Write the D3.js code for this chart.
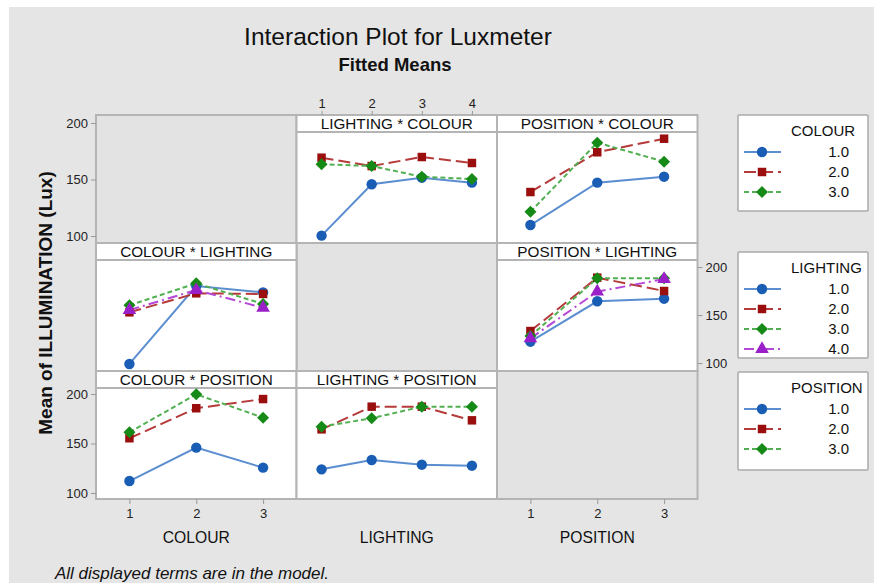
<!DOCTYPE html>
<html><head><meta charset="utf-8">
<script src="https://cdn.jsdelivr.net/npm/d3@7"></script>
<style>body{margin:0;background:#fff;} svg{display:block;font-family:"Liberation Sans",Arial,sans-serif;}</style>
</head><body><svg id="c" width="874" height="585"></svg>
<script>
// ---- data (fitted means) ----
const colourLevels = [1, 2, 3];
const lightingLevels = [1, 2, 3, 4];
const positionLevels = [1, 2, 3];
const yTicks = [100, 150, 200];
const legendLabels3 = ["1.0", "2.0", "3.0"];
const legendLabels4 = ["1.0", "2.0", "3.0", "4.0"];

// LIGHTING * COLOUR : x = LIGHTING, one line per COLOUR
const lightingColour = [
  [100.3, 145.8, 151.6, 147.2],
  [169.3, 161.9, 169.9, 164.6],
  [163.5, 161.9, 152.5, 150.4]
];
// POSITION * COLOUR : x = POSITION, one line per COLOUR
const positionColour = [
  [109.7, 147.2, 152.5],
  [138.9, 174.1, 186.1],
  [121.5, 182.6, 165.8]
];
// COLOUR * LIGHTING : x = COLOUR, one line per LIGHTING
const colourLighting = [
  [99.0, 180.2, 173.6],
  [152.8, 172.6, 171.9],
  [160.1, 183.0, 161.5],
  [155.2, 176.0, 157.6]
];
// POSITION * LIGHTING : x = POSITION, one line per LIGHTING
const positionLighting = [
  [122.2, 164.3, 167.0],
  [133.3, 188.9, 175.0],
  [128.1, 188.2, 188.2],
  [125.7, 174.3, 187.5]
];
// COLOUR * POSITION : x = COLOUR, one line per POSITION
const colourPosition = [
  [112.1, 145.8, 125.6],
  [155.3, 185.6, 194.9],
  [161.3, 199.7, 176.1]
];
// LIGHTING * POSITION : x = LIGHTING, one line per POSITION
const lightingPosition = [
  [123.9, 133.3, 128.6, 127.6],
  [164.3, 187.2, 187.2, 173.4],
  [167.0, 175.5, 187.2, 187.2]
];

// ---- styles ----
const styles = [
  {line: "#5a8ed0", mark: "#1a5db4", dash: null, shape: d3.symbolCircle, size: 85, rot: 0},
  {line: "#b53a3a", mark: "#9a0e0e", dash: "12,5", shape: d3.symbolSquare, size: 72, rot: 0},
  {line: "#52b052", mark: "#168a16", dash: "5,3", shape: d3.symbolSquare, size: 72, rot: 45},
  {line: "#b548d6", mark: "#9a1fc8", dash: "10,4,2,4", shape: d3.symbolTriangle, size: 80, rot: 0}
];

const svg = d3.select("#c");
svg.append("rect").attr("x", 9).attr("y", 7).attr("width", 865).attr("height", 576).attr("fill", "#e5e5e5");

// layout
const colX = [96, 296.5, 497], colW = 200.5;
const rowY = [115, 243, 371], rowH = 128, stripH = 17;
const border = "#b4b4b4";
const FONT = '"Liberation Sans",Arial,sans-serif';

const rowScales = [
  d3.scaleLinear().domain([100, 200]).range([236, 123]),
  d3.scaleLinear().domain([100, 200]).range([363, 267]),
  d3.scaleLinear().domain([100, 200]).range([493, 394])
];
const xScale = (col, levels) => d3.scalePoint().domain(levels).range([colX[col], colX[col] + colW]).padding(0.5);

const panels = [
  {r: 0, c: 1, title: "LIGHTING * COLOUR", x: lightingLevels, data: lightingColour},
  {r: 0, c: 2, title: "POSITION * COLOUR", x: positionLevels, data: positionColour},
  {r: 1, c: 0, title: "COLOUR * LIGHTING", x: colourLevels, data: colourLighting},
  {r: 1, c: 2, title: "POSITION * LIGHTING", x: positionLevels, data: positionLighting},
  {r: 2, c: 0, title: "COLOUR * POSITION", x: colourLevels, data: colourPosition},
  {r: 2, c: 1, title: "LIGHTING * POSITION", x: lightingLevels, data: lightingPosition}
];

// empty diagonal cells
[0, 1, 2].forEach(i => {
  svg.append("rect").attr("x", colX[i]).attr("y", rowY[i]).attr("width", colW).attr("height", rowH)
    .attr("fill", "#e3e3e3").attr("stroke", border).attr("stroke-width", 2);
});

const marker = (sel, st) => sel.attr("d", d3.symbol().type(st.shape).size(st.size)).attr("fill", st.mark);

panels.forEach(p => {
  const g = svg.append("g");
  const x0 = colX[p.c], y0 = rowY[p.r];
  g.append("rect").attr("x", x0).attr("y", y0).attr("width", colW).attr("height", rowH)
    .attr("fill", "#fff").attr("stroke", border).attr("stroke-width", 2);
  g.append("line").attr("x1", x0).attr("x2", x0 + colW).attr("y1", y0 + stripH).attr("y2", y0 + stripH)
    .attr("stroke", border).attr("stroke-width", 2);
  g.append("text").attr("x", x0 + colW / 2).attr("y", y0 + 14).attr("text-anchor", "middle")
    .attr("font-size", 15.3).attr("fill", "#111").text(p.title);
  const xs = xScale(p.c, p.x), ys = rowScales[p.r];
  const line = d3.line().x((d, i) => xs(p.x[i])).y(d => ys(d));
  p.data.forEach((series, si) => {
    const st = styles[si];
    g.append("path").attr("d", line(series)).attr("fill", "none").attr("stroke", st.line)
      .attr("stroke-width", 2).attr("stroke-dasharray", st.dash);
  });
  p.data.forEach((series, si) => {
    const st = styles[si];
    g.selectAll(null).data(series).enter().append("path")
      .attr("transform", (d, i) => `translate(${xs(p.x[i])},${ys(d)}) rotate(${st.rot})`)
      .call(marker, st);
  });
});

// axes
const tickStyle = sel => {
  sel.select(".domain").remove();
  sel.selectAll(".tick line").attr("stroke", "#999");
  sel.selectAll(".tick text").attr("fill", "#222").attr("font-size", 13).attr("font-family", FONT);
};
[0, 2].forEach(r => {
  svg.append("g").attr("transform", `translate(${colX[0]},0)`)
    .call(d3.axisLeft(rowScales[r]).tickValues(yTicks).tickSize(5).tickPadding(3)).call(tickStyle);
});
svg.append("g").attr("transform", `translate(${colX[2] + colW},0)`)
  .call(d3.axisRight(rowScales[1]).tickValues(yTicks).tickSize(5).tickPadding(3)).call(tickStyle);
svg.append("g").attr("transform", `translate(0,${rowY[0]})`)
  .call(d3.axisTop(xScale(1, lightingLevels)).tickSize(4).tickPadding(3)).call(tickStyle);
svg.append("g").attr("transform", `translate(0,${rowY[2] + rowH})`)
  .call(d3.axisBottom(xScale(0, colourLevels)).tickSize(5).tickPadding(5)).call(tickStyle);
svg.append("g").attr("transform", `translate(0,${rowY[2] + rowH})`)
  .call(d3.axisBottom(xScale(2, positionLevels)).tickSize(5).tickPadding(5)).call(tickStyle);

// axis titles
["COLOUR", "LIGHTING", "POSITION"].forEach((t, i) => {
  svg.append("text").attr("x", colX[i] + colW / 2).attr("y", 543).attr("text-anchor", "middle")
    .attr("font-size", 15.7).attr("fill", "#111").text(t);
});
svg.append("text").attr("transform", "translate(52,303) rotate(-90)").attr("text-anchor", "middle")
  .attr("font-size", 19).attr("font-weight", "bold").attr("fill", "#111").text("Mean of ILLUMINATION (Lux)");

// titles
svg.append("text").attr("x", 398).attr("y", 45).attr("text-anchor", "middle").attr("font-size", 24.5)
  .attr("fill", "#111").text("Interaction Plot for Luxmeter");
svg.append("text").attr("x", 395).attr("y", 71).attr("text-anchor", "middle").attr("font-size", 18.5)
  .attr("font-weight", "bold").attr("fill", "#111").text("Fitted Means");
svg.append("text").attr("x", 55).attr("y", 579).attr("font-size", 17).attr("font-style", "italic")
  .attr("fill", "#111").text("All displayed terms are in the model.");

// legends
const legends = [
  {title: "COLOUR", labels: legendLabels3, y: 115, h: 96},
  {title: "LIGHTING", labels: legendLabels4, y: 252, h: 106},
  {title: "POSITION", labels: legendLabels3, y: 372, h: 98}
];
legends.forEach(L => {
  const g = svg.append("g");
  g.append("rect").attr("x", 738).attr("y", L.y).attr("width", 130).attr("height", L.h)
    .attr("fill", "#fff").attr("stroke", "#aaa").attr("stroke-width", 1.5).attr("rx", 1);
  g.append("text").attr("x", 791).attr("y", L.y + 21).attr("font-size", 15).attr("fill", "#111").text(L.title);
  L.labels.forEach((lab, i) => {
    const st = styles[i];
    const yy = L.y + 37 + i * 20;
    g.append("line").attr("x1", 744).attr("x2", 781).attr("y1", yy).attr("y2", yy)
      .attr("stroke", st.line).attr("stroke-width", 2).attr("stroke-dasharray", st.dash);
    g.append("path").attr("transform", `translate(762,${yy}) rotate(${st.rot})`).call(marker, st);
    g.append("text").attr("x", 849).attr("y", yy + 5).attr("text-anchor", "end")
      .attr("font-size", 15).attr("fill", "#111").text(lab);
  });
});
</script></body></html>
